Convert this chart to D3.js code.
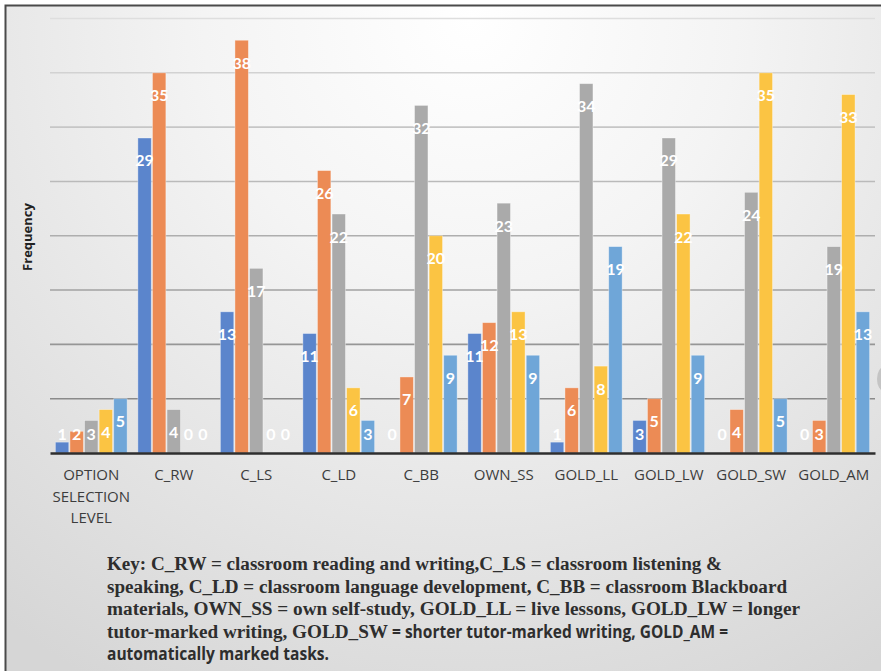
<!DOCTYPE html>
<html>
<head>
<meta charset="utf-8">
<script src="https://cdn.jsdelivr.net/npm/d3@7"></script>
<style>
  html, body { margin: 0; padding: 0; background: #fff; }
  svg { display: block; }
</style>
</head>
<body>
<svg id="chart"></svg>
<script>
// categories and the five series (one value per category)
const categories = ['OPTION SELECTION LEVEL', 'C_RW', 'C_LS', 'C_LD', 'C_BB', 'OWN_SS', 'GOLD_LL', 'GOLD_LW', 'GOLD_SW', 'GOLD_AM']
const series1 = [1, 29, 13, 11, 0, 11, 1, 3, 0, 0]
const series2 = [2, 35, 38, 26, 7, 12, 6, 5, 4, 3]
const series3 = [3, 4, 17, 22, 32, 23, 34, 29, 24, 19]
const series4 = [4, 0, 0, 6, 20, 13, 8, 22, 35, 33]
const series5 = [5, 0, 0, 3, 9, 9, 19, 9, 5, 13]
const yTicks = [0, 5, 10, 15, 20, 25, 30, 35, 40]

const keyLines = [
  [['serif', 'Key: C_RW = classroom reading and writing,C_LS = classroom listening &']],
  [['serif', 'speaking, C_LD = classroom language development, C_BB = classroom Blackboard']],
  [['serif', 'materials, OWN_SS = own self-study, GOLD_LL = live lessons, GOLD_LW = longer']],
  [['serif', 'tutor-marked writing, GOLD_SW'], ['sans', ' = shorter tutor-marked writing, GOLD_AM =']],
  [['sans', 'automatically marked tasks.']]
]

const width = 881
const height = 671
const margin = { left: 50, right: 6, top: 18.5, baseline: 453 }
const colors = ['#5b85cc', '#ec8b55', '#aaaaaa', '#fbc443', '#6fa6d8']
// widths of each key segment in the layout, px
const keyWidths = [[615], [680], [693], [281, 340], [222]]

const seriesAll = [series1, series2, series3, series4, series5]
const rows = categories.map((c, i) => ({ cat: c, values: seriesAll.map((s, k) => ({ k, v: s[i] })) }))

const svg = d3.select('#chart').attr('width', width).attr('height', height)
const defs = svg.append('defs')
const bg = defs.append('radialGradient').attr('id', 'bg')
  .attr('gradientUnits', 'userSpaceOnUse')
  .attr('cx', 470).attr('cy', 20).attr('r', 760)
bg.append('stop').attr('offset', '0%').attr('stop-color', '#ffffff')
bg.append('stop').attr('offset', '35%').attr('stop-color', '#f4f4f4')
bg.append('stop').attr('offset', '100%').attr('stop-color', '#d6d6d6')

svg.append('rect').attr('x', 5).attr('y', 5).attr('width', width - 5).attr('height', height - 5).attr('fill', 'url(#bg)')
// frame
svg.append('path').attr('d', `M5.5,${height} V5.5 H${width}`).attr('fill', 'none').attr('stroke', '#4a4a4a').attr('stroke-width', 2)
svg.append('ellipse').attr('cx', 884).attr('cy', 379).attr('rx', 7).attr('ry', 12).attr('fill', '#c4c4c4')

const x = d3.scaleBand().domain(categories).range([margin.left, width - margin.right])
  .paddingInner(0.13).paddingOuter(0.065)
const xs = d3.scaleBand().domain(d3.range(5)).range([0, x.bandwidth()]).paddingInner(0.08)
const y = d3.scaleLinear().domain([0, 40]).range([margin.baseline, margin.top])
const gridColor = d3.scaleLinear().domain([5, 40]).range(['#8a8a8a', '#dedede'])

// gridlines
svg.append('g').selectAll('line').data(yTicks.filter(t => t > 0)).join('line')
  .attr('x1', margin.left).attr('x2', width - margin.right)
  .attr('y1', d => y(d)).attr('y2', d => y(d))
  .attr('stroke', d => gridColor(d)).attr('stroke-width', 1.6)

// bars
const groups = svg.append('g').selectAll('g').data(rows).join('g')
  .attr('transform', d => `translate(${x(d.cat)},0)`)

groups.selectAll('rect').data(d => d.values).join('rect')
  .attr('x', d => xs(d.k)).attr('width', xs.bandwidth())
  .attr('y', d => y(d.v)).attr('height', d => y(0) - y(d.v))
  .attr('fill', d => colors[d.k])
  .attr('stroke', 'rgba(255,255,255,0.45)').attr('stroke-width', 0.8)

groups.selectAll('text').data(d => d.values).join('text')
  .attr('x', d => xs(d.k) + xs.bandwidth() / 2)
  .attr('y', d => Math.min(y(d.v) + 22, 433))
  .attr('text-anchor', 'middle').attr('dominant-baseline', 'central')
  .attr('font-family', 'Lato, "Open Sans", sans-serif').attr('font-weight', 'bold')
  .attr('font-size', 16).attr('fill', '#fff')
  .text(d => d.v)

// x axis line
const xAxis = d3.axisBottom(x).tickSize(0).tickPadding(14)
const ax = svg.append('g').attr('transform', `translate(0,${y(0)})`).call(xAxis)
ax.select('.domain').attr('stroke', '#2e2e2e').attr('stroke-width', 2.6)
ax.selectAll('.tick text').remove()
ax.selectAll('.tick').each(function (d) {
  const words = d === categories[0] ? ['OPTION', 'SELECTION', 'LEVEL'] : [d]
  const t = d3.select(this).append('text')
    .attr('fill', '#3c3c3c').attr('font-family', '"Open Sans", Lato, sans-serif')
    .attr('font-size', 15).attr('text-anchor', 'middle')
  words.forEach((w, i) => t.append('tspan').attr('x', 0).attr('y', 27 + i * 21.5).text(w))
})

// y title
svg.append('text')
  .attr('transform', `translate(32,237) rotate(-90)`)
  .attr('text-anchor', 'middle')
  .attr('font-family', '"Open Sans", sans-serif').attr('font-weight', 'bold')
  .attr('font-size', 13).attr('fill', '#222')
  .text('Frequency')

// key text
const fonts = { serif: '"Liberation Serif", "Times New Roman", serif', sans: '"Open Sans", Lato, sans-serif' }
keyLines.forEach((line, i) => {
  let xpos = 107
  line.forEach(([f, str], j) => {
    svg.append('text')
      .attr('x', xpos).attr('y', 570 + i * 22.6)
      .attr('font-family', fonts[f]).attr('font-weight', 'bold')
      .attr('font-size', f === 'serif' ? 18 : 17).attr('fill', '#2e2e2e')
      .attr('textLength', keyWidths[i][j]).attr('lengthAdjust', 'spacingAndGlyphs')
      .attr('xml:space', 'preserve')
      .text(str)
    xpos += keyWidths[i][j]
  })
})
</script>
</body>
</html>
